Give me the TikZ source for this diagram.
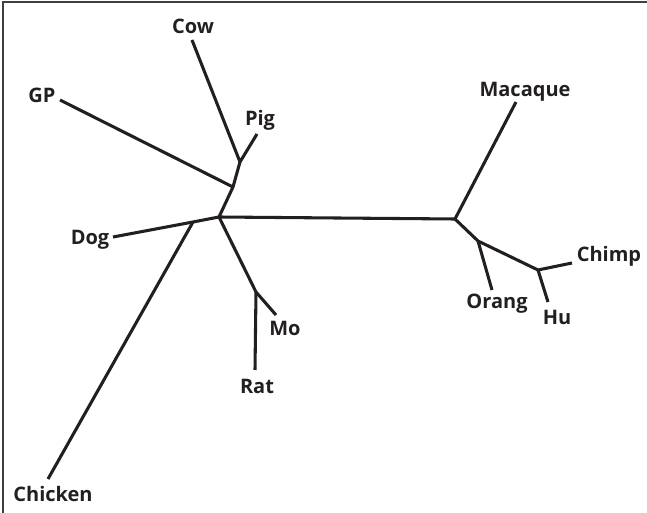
\documentclass[tikz,border=0pt]{standalone}
\usepackage{fontspec}
\setmainfont{Open Sans}[BoldFont={Open Sans Bold}]
\definecolor{ink}{HTML}{231F20}
\begin{document}
\begin{tikzpicture}[x=0.75pt,y=-0.75pt,
  br/.style={draw=ink,line width=2.3pt,line cap=butt,line join=round},
  lab/.style={font=\bfseries\fontsize{15}{18}\selectfont,text=ink,inner sep=0pt}]
\useasboundingbox (0,0) rectangle (647,513);
\draw[line width=1.2pt,draw=black!75] (3,513) -- (3,2) -- (647,2);
% internal nodes
\coordinate (c) at (219,217);
\coordinate (p) at (233,187);
\coordinate (q) at (240,162);
\coordinate (d) at (193,222);
\coordinate (r) at (256,292);
\coordinate (m) at (455,219);
\coordinate (a) at (478,241);
\coordinate (h) at (538,270);
% tips
\coordinate (tcow) at (192,40);
\coordinate (tpig) at (257,134);
\coordinate (tgp) at (60,100);
\coordinate (tdog) at (113,237);
\coordinate (tchk) at (48,479);
\coordinate (tmo) at (276,315);
\coordinate (trat) at (255,370);
\coordinate (tmac) at (516,102);
\coordinate (torg) at (492,290);
\coordinate (tchp) at (572,263);
\coordinate (thu) at (548,302);
% labels
\node[lab] (Cow) at (193,26) {Cow};
\node[lab] (GP) at (42,95) {GP};
\node[lab] (Pig) at (260,120) {Pig};
\node[lab] (Macaque) at (525,92) {Macaque};
\node[lab] (Dog) at (90,240) {Dog};
\node[lab] (Chimp) at (609,256) {Chimp};
\node[lab] (Orang) at (497,304) {Orang};
\node[lab] (Hu) at (557,317) {Hu};
\node[lab] (Mo) at (285,328) {Mo};
\node[lab] (Rat) at (257,386) {Rat};
\node[lab] (Chicken) at (53,494) {Chicken};
% branches
\draw[br] (tcow) -- (q) -- (tpig);
\draw[br] (q) -- (p) -- (c);
\draw[br] (tgp) -- (p);
\draw[br] (tdog) -- (d) -- (c);
\draw[br] (d) -- (tchk);
\draw[br] (c) -- (r) -- (tmo);
\draw[br] (r) -- (trat);
\draw[br] (c) -- (m) -- (tmac);
\draw[br] (m) -- (a) -- (h) -- (tchp);
\draw[br] (a) -- (torg);
\draw[br] (h) -- (thu);
\end{tikzpicture}
\end{document}
